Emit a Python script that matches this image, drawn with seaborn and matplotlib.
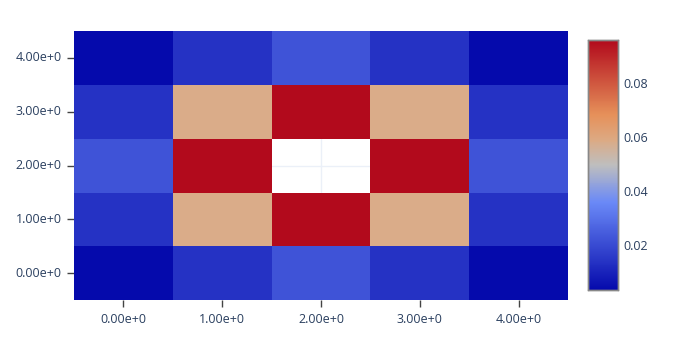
import numpy as np
import pandas as pd
import matplotlib
matplotlib.use("Agg")
import matplotlib.pyplot as plt
import seaborn as sns
from matplotlib.colors import LinearSegmentedColormap

# values (centre cell is empty)
x_labels = ["0.00e+0", "1.00e+0", "2.00e+0", "3.00e+0", "4.00e+0"]
y_labels = ["0.00e+0", "1.00e+0", "2.00e+0", "3.00e+0", "4.00e+0"]
row0 = [0.0032, 0.0134, 0.0218, 0.0134, 0.0032]
row1 = [0.0134, 0.0581, 0.0960, 0.0581, 0.0134]
row2 = [0.0218, 0.0960, np.nan, 0.0960, 0.0218]
row3 = [0.0134, 0.0581, 0.0960, 0.0581, 0.0134]
row4 = [0.0032, 0.0134, 0.0218, 0.0134, 0.0032]
cbar_ticks = [0.02, 0.04, 0.06, 0.08]

# plotly's old RdBu scale
stops = [(0.0, (5, 10, 172)), (0.35, (106, 137, 247)), (0.5, (190, 190, 190)),
         (0.6, (220, 170, 132)), (0.7, (230, 145, 90)), (1.0, (178, 10, 28))]
cmap = LinearSegmentedColormap.from_list(
    "plotly_rdbu", [(s, tuple(c / 255 for c in rgb)) for s, rgb in stops])

df = pd.DataFrame([row0, row1, row2, row3, row4], index=y_labels, columns=x_labels)

sns.set_style("white")
plt.rcParams['font.family'] = ['Open Sans', 'DejaVu Sans']

fig = plt.figure(figsize=(6.75, 3.57), dpi=100)
ax = fig.add_axes([0.1096, 0.159, 0.7319, 0.754])
cax = fig.add_axes([0.871, 0.188, 0.045, 0.700])

sns.heatmap(df, ax=ax, cbar_ax=cax, cmap=cmap, vmin=0.0032, vmax=0.0960,
            linewidths=0, cbar_kws={'ticks': cbar_ticks})
ax.invert_yaxis()

# grid lines only show through the empty cell
ax.set_axisbelow(True)
ax.grid(True, color='#EBF0F8', linewidth=1)
ax.set_facecolor('white')

txt = '#2a3f5f'
ax.set_xlabel('')
ax.set_ylabel('')
ax.tick_params(axis='both', which='both', bottom=True, left=True, length=5,
               width=1, color='#444444', labelcolor=txt, labelsize=9, pad=4,
               direction='out')
ax.set_xticklabels(x_labels, rotation=0)
ax.set_yticklabels(y_labels, rotation=0)
for s in ax.spines.values():
    s.set_visible(False)

cax.tick_params(length=0, labelcolor=txt, labelsize=9, pad=4)
cax.set_yticklabels([f"{t:.2f}" for t in cbar_ticks])
for s in cax.spines.values():
    s.set_visible(True)
    s.set_color('#888888')
    s.set_linewidth(1)

fig.savefig("out.png", dpi=100, facecolor='white')
